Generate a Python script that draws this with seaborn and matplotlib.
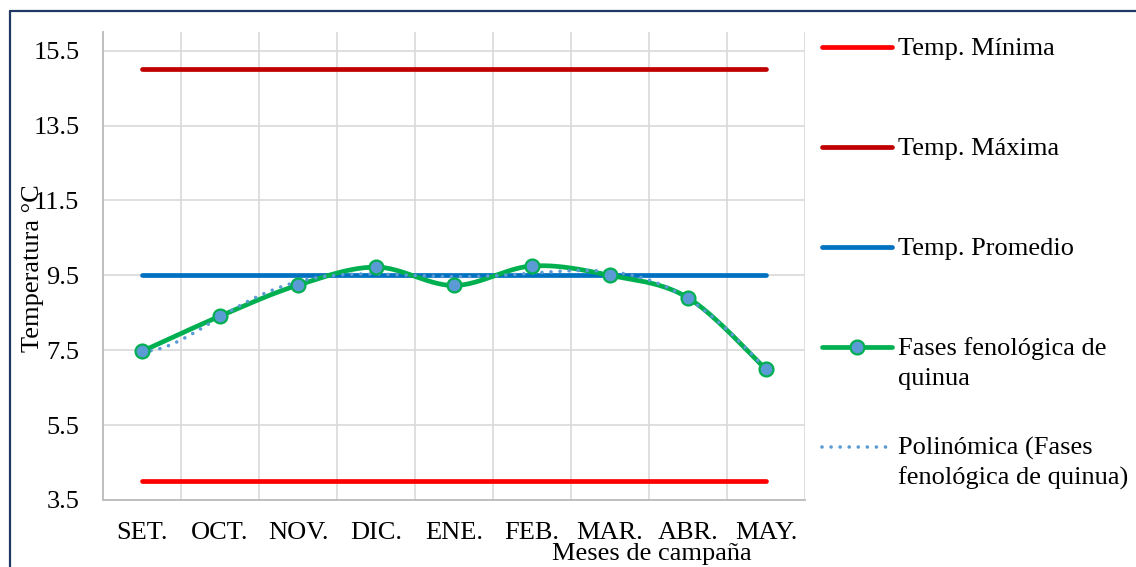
import numpy as np
import pandas as pd
import matplotlib
matplotlib.use("Agg")
import matplotlib.pyplot as plt
import seaborn as sns
from matplotlib.lines import Line2D

# ---- data -------------------------------------------------------------
months = ["SET.", "OCT.", "NOV.", "DIC.", "ENE.", "FEB.", "MAR.", "ABR.", "MAY."]
temp_fases = [7.47, 8.41, 9.24, 9.72, 9.23, 9.75, 9.50, 8.90, 6.99]
temp_min = [4.0, 4.0, 4.0, 4.0, 4.0, 4.0, 4.0, 4.0, 4.0]
temp_max = [15.0, 15.0, 15.0, 15.0, 15.0, 15.0, 15.0, 15.0, 15.0]
temp_prom = [9.5, 9.5, 9.5, 9.5, 9.5, 9.5, 9.5, 9.5, 9.5]
y_ticks = [3.5, 5.5, 7.5, 9.5, 11.5, 13.5, 15.5]
trend_order = 6

labels = ["Temp. Mínima", "Temp. Máxima", "Temp. Promedio",
          "Fases fenológica de\nquinua", "Polinómica (Fases\nfenológica de quinua)"]

C_MIN, C_MAX, C_PROM = "#FF0000", "#C00000", "#0070C0"
C_GREEN, C_DOT = "#00B050", "#5B9BD5"

sns.set_theme(style="white")
plt.rcParams["font.family"] = ["Liberation Serif", "DejaVu Serif"]
plt.rcParams["font.size"] = 19

W, H = 1136, 567
fig = plt.figure(figsize=(W / 100, H / 100), dpi=100)


def px(x, y):
    """figure pixel (from top-left) -> figure fraction"""
    return x / W, 1 - y / H


ax = fig.add_axes([103 / W, 1 - 500 / H, 702 / W, 468 / H])

xi = np.arange(len(months))


def smooth_curve(x, y, n=40):
    """Smoothed path through the points using cubic Bezier segments."""
    pts = np.column_stack([x, y]).astype(float)
    P = np.vstack([pts[0], pts, pts[-1]])
    segs = []
    for i in range(len(pts) - 1):
        p0, p1, p2, p3 = P[i], P[i + 1], P[i + 2], P[i + 3]
        c1 = p1 + (p2 - p0) / 6
        c2 = p2 - (p3 - p1) / 6
        t = np.linspace(0, 1, n, endpoint=(i == len(pts) - 2))[:, None]
        b = ((1 - t) ** 3) * p1 + 3 * ((1 - t) ** 2) * t * c1 \
            + 3 * (1 - t) * t ** 2 * c2 + t ** 3 * p2
        segs.append(b)
    s = np.vstack(segs)
    return s[:, 0], s[:, 1]


df = pd.DataFrame({"x": xi, "fases": temp_fases, "tmin": temp_min,
                   "tmax": temp_max, "tprom": temp_prom})

lw = 3.4
for col, c in [("tmin", C_MIN), ("tmax", C_MAX), ("tprom", C_PROM)]:
    sns.lineplot(data=df, x="x", y=col, color=c, lw=lw, ax=ax,
                 solid_capstyle="round", zorder=2)

sx, sy = smooth_curve(xi, temp_fases)
sns.lineplot(x=sx, y=sy, sort=False, estimator=None, color=C_GREEN, lw=lw,
             ax=ax, solid_capstyle="round", zorder=3)

# polynomial trendline of the phenological series
dot_style = dict(color=C_DOT, lw=2.6, linestyle=(0, (0.01, 2.5)),
                 dash_capstyle="round")
coef = np.polyfit(xi, temp_fases, trend_order)
tx = np.linspace(0, len(months) - 1, 400)
ty = np.polyval(coef, tx)
ax.plot(tx, ty, zorder=4, **dot_style)

ax.plot(xi, temp_fases, linestyle="none", marker="o", markersize=10,
        markerfacecolor=C_DOT, markeredgecolor=C_GREEN, markeredgewidth=1.6,
        zorder=5)

# axes styling
ax.set_xlim(-0.5, len(months) - 0.5)
ax.set_ylim(3.5, 16.0)
ax.set_yticks(y_ticks)
ax.set_yticklabels([f"{v:.1f}" for v in y_ticks])
ax.set_xticks(xi)
ax.set_xticklabels(months)
ax.set_xticks(np.arange(-0.5, len(months), 1.0), minor=True)
ax.grid(True, which="major", axis="y", color="#D9D9D9", lw=1.2)
ax.grid(True, which="minor", axis="x", color="#D9D9D9", lw=1.2)
ax.grid(False, which="major", axis="x")
ax.tick_params(axis="both", which="both", length=0, labelsize=19, colors="#000000")
ax.tick_params(axis="x", pad=16)
ax.tick_params(axis="y", pad=17)
for side in ["top", "right"]:
    ax.spines[side].set_visible(False)
for side in ["left", "bottom"]:
    ax.spines[side].set_color("#BFBFBF")
    ax.spines[side].set_linewidth(1.4)
ax.set_xlabel("")
ax.set_ylabel("")
ax.set_axisbelow(True)

# axis titles
fig.text(*px(33, 268), "Temperatura °C", rotation=90, ha="center", va="center",
         fontsize=19, color="#000000")
fig.text(*px(652, 560), "Meses de campaña", ha="center", va="baseline",
         fontsize=19, color="#000000")

# legend (drawn at the right of the plot)
handle_y = [47, 147, 247, 347, 447]
handle_styles = [
    dict(color=C_MIN, lw=lw, solid_capstyle="round"),
    dict(color=C_MAX, lw=lw, solid_capstyle="round"),
    dict(color=C_PROM, lw=lw, solid_capstyle="round"),
    dict(color=C_GREEN, lw=lw, solid_capstyle="round"),
    dot_style,
]
for yy, lab, st in zip(handle_y, labels, handle_styles):
    x0, y0 = px(822, yy)
    x1, _ = px(892, yy)
    fig.add_artist(Line2D([x0, x1], [y0, y0], transform=fig.transFigure, **st))
    for k, line in enumerate(lab.split("\n")):
        fig.text(*px(898, yy + 8 + 30 * k), line, ha="left", va="baseline",
                 fontsize=19, color="#000000")
mx, my = px(857, 347)
fig.add_artist(Line2D([mx], [my], transform=fig.transFigure, marker="o",
                      markersize=10, markerfacecolor=C_DOT,
                      markeredgecolor=C_GREEN, markeredgewidth=1.6))

# outer frame
fx0, fy0 = px(10, 11)
fx1, _ = px(W + 5, 11)
_, fy1 = px(10, H + 5)
fig.add_artist(Line2D([fx0, fx1], [fy0, fy0], transform=fig.transFigure,
                      color="#1F3864", lw=1.6))
fig.add_artist(Line2D([fx0, fx0], [fy0, fy1], transform=fig.transFigure,
                      color="#1F3864", lw=1.6))

fig.savefig("out.png", dpi=100, facecolor="white")
